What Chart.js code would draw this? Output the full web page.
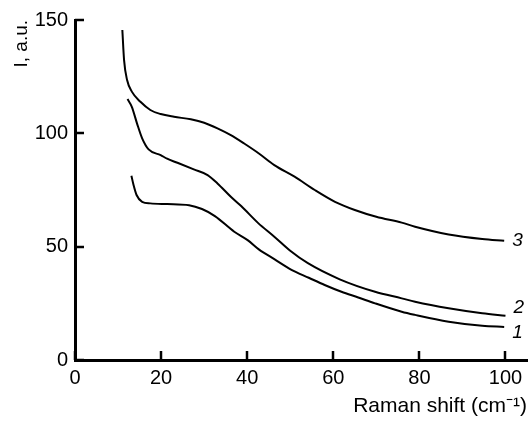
<!DOCTYPE html>
<html>
<head>
<meta charset="utf-8">
<script src="https://cdn.jsdelivr.net/npm/chart.js@4"></script>
<style>
  html, body { margin: 0; padding: 0; background: #fff; }
  canvas { display: block; }
</style>
</head>
<body>
<canvas id="ramanChart" width="531" height="421"></canvas>
<script>
// values
const curve1X = [13.1, 13.6, 14.3, 15.6, 17.5, 21.4, 26.5, 29.5, 32.5, 37.0, 40.1, 42.7, 46.3, 50.4, 54.3, 58.0, 61.9, 65.8, 69.7, 75.9, 79.0, 86.8, 94.6, 99.7]
const curve1Y = [81.3, 77.2, 72.8, 69.8, 69.1, 68.8, 68.3, 66.6, 63.5, 56.6, 52.9, 48.8, 44.5, 39.7, 36.3, 33.1, 30.1, 27.6, 25.0, 21.3, 19.9, 16.9, 15.1, 14.6]

const curve2X = [12.2, 13.2, 14.4, 15.6, 17.1, 19.9, 21.4, 23.8, 27.6, 30.8, 33.1, 36.2, 38.6, 42.5, 46.3, 50.0, 54.1, 61.5, 69.7, 75.9, 79.0, 86.8, 94.6, 100.0]
const curve2Y = [115.1, 111.7, 104.4, 97.8, 92.9, 90.4, 88.8, 87.0, 84.1, 81.6, 77.9, 72.0, 67.9, 60.5, 54.4, 48.2, 42.7, 35.6, 30.1, 27.2, 25.7, 22.8, 20.6, 19.5]

const curve3X = [11.0, 11.4, 12.1, 13.2, 15.2, 17.5, 19.9, 23.0, 26.9, 30.0, 33.1, 36.2, 39.3, 42.8, 46.3, 51.0, 55.7, 60.4, 65.0, 70.0, 75.9, 79.0, 86.8, 94.6, 99.7]
const curve3Y = [145.6, 132.3, 123.5, 118.4, 113.9, 110.3, 108.5, 107.3, 106.2, 104.7, 102.2, 99.2, 95.5, 91.0, 86.0, 80.9, 75.0, 69.8, 66.2, 63.2, 60.6, 58.8, 55.4, 53.4, 52.6]

const curveLabels = ['1', '2', '3']
const xTickValues = [0, 20, 40, 60, 80, 100]
const yTickValues = [0, 50, 100, 150]

const FONT = "'Liberation Sans', Arial, sans-serif"

function toPoints(xs, ys) {
    return xs.map((x, i) => ({ x: x, y: ys[i] }))
}

// short ticks pointing into the plot, plus the italic curve numbers
const axisDecor = {
    id: 'axisDecor',
    afterDraw(chart) {
        const ctx = chart.ctx
        const x = chart.scales.x
        const y = chart.scales.y
        ctx.save()
        ctx.strokeStyle = '#000'
        ctx.lineWidth = 2.5
        x.ticks.forEach(t => {
            const px = Math.round(x.getPixelForValue(t.value))
            ctx.beginPath()
            ctx.moveTo(px, y.bottom)
            ctx.lineTo(px, y.bottom - 9)
            ctx.stroke()
        })
        y.ticks.forEach(t => {
            const py = Math.round(y.getPixelForValue(t.value))
            ctx.beginPath()
            ctx.moveTo(x.left, py)
            ctx.lineTo(x.left + 9, py)
            ctx.stroke()
        })

        // curve numbers at the right end of each line
        const offsets = [6, -8, 0]
        ctx.fillStyle = '#000'
        ctx.font = 'italic 19px ' + FONT
        ctx.textAlign = 'left'
        ctx.textBaseline = 'middle'
        chart.data.datasets.forEach((ds, i) => {
            const last = ds.data[ds.data.length - 1]
            const px = x.getPixelForValue(last.x) + 8
            const py = y.getPixelForValue(last.y) + offsets[i]
            ctx.fillText(curveLabels[i], px, py)
        })
        ctx.restore()
    }
}

const lineStyle = {
    borderColor: '#000',
    borderWidth: 2,
    pointRadius: 0,
    fill: false,
    cubicInterpolationMode: 'monotone'
}

new Chart(document.getElementById('ramanChart'), {
    type: 'line',
    data: {
        datasets: [
            Object.assign({ label: curveLabels[0], data: toPoints(curve1X, curve1Y) }, lineStyle),
            Object.assign({ label: curveLabels[1], data: toPoints(curve2X, curve2Y) }, lineStyle),
            Object.assign({ label: curveLabels[2], data: toPoints(curve3X, curve3Y) }, lineStyle)
        ]
    },
    options: {
        responsive: false,
        animation: false,
        layout: { padding: { top: 20, right: 4, left: 0, bottom: 0 } },
        plugins: {
            legend: { display: false },
            tooltip: { enabled: false }
        },
        scales: {
            x: {
                type: 'linear',
                min: 0,
                max: 105,
                afterBuildTicks: s => { s.ticks = xTickValues.map(v => ({ value: v })) },
                afterFit: s => { s.height = 61 },
                grid: { drawOnChartArea: false, drawTicks: false },
                border: { color: '#000', width: 3 },
                ticks: { color: '#000', padding: 6, maxRotation: 0, font: { family: FONT, size: 20 } },
                title: {
                    display: true,
                    text: 'Raman shift (cm\u207B\u00B9)',
                    align: 'end',
                    color: '#000',
                    padding: { top: 0, bottom: 2 },
                    font: { family: FONT, size: 21 }
                }
            },
            y: {
                min: 0,
                max: 150,
                afterBuildTicks: s => { s.ticks = yTickValues.map(v => ({ value: v })) },
                afterFit: s => { s.width = 75 },
                grid: { drawOnChartArea: false, drawTicks: false },
                border: { color: '#000', width: 3 },
                ticks: { color: '#000', padding: 7, font: { family: FONT, size: 20 } },
                title: {
                    display: true,
                    text: 'I, a.u.',
                    align: 'end',
                    color: '#000',
                    padding: { top: 10, bottom: 0 },
                    font: { family: FONT, size: 19 }
                }
            }
        }
    },
    plugins: [axisDecor]
})
</script>
</body>
</html>
